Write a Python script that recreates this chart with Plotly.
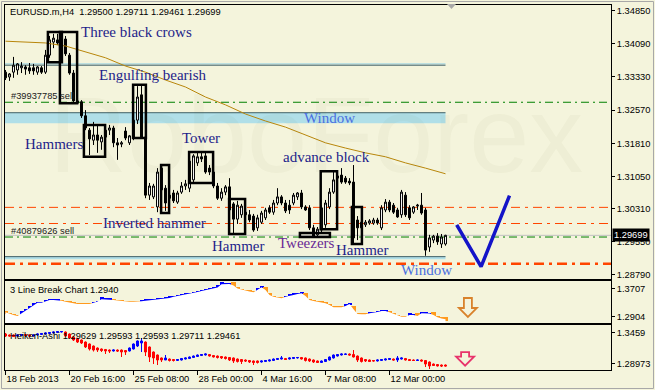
import plotly.graph_objects as go

# ---------------- data ----------------
bar_index = list(range(111))
open_ = [1.3344,1.3333,1.3344,1.3349,1.3354,1.3356,1.3354,1.3354,1.3344,1.3354,
         1.3344,1.3383,1.3413,1.3418,1.3409,1.3420,1.3383,1.3342,1.3278,1.3276,
         1.3244,1.3211,1.3188,1.3200,1.3184,1.3195,1.3211,1.3216,1.3182,1.3179,
         1.3209,1.3182,1.3193,1.3234,1.3292,1.3195,1.3062,1.3058,1.3035,1.3074,
         1.3078,1.3062,1.3067,1.3046,1.3069,1.3083,1.3078,1.3097,1.3136,1.3150,
         1.3152,1.3124,1.3115,1.3083,1.3055,1.3069,1.3081,1.3042,1.3007,1.3017,
         1.3023,1.3017,1.3014,1.2987,1.3000,1.3010,1.3033,1.3023,1.3044,1.3058,
         1.3044,1.3039,1.3044,1.3058,1.3067,1.3035,1.3033,1.2987,1.2971,1.2982,
         1.2994,1.3035,1.3069,1.3101,1.3108,1.3101,1.3094,1.3092,1.3005,1.2987,
         1.2994,1.2998,1.2998,1.3005,1.2987,1.3028,1.3046,1.3039,1.3028,1.3017,
         1.3062,1.3033,1.3023,1.3037,1.3039,1.3028,1.2943,1.2959,1.2968,1.2950,
         1.29500]
high_ = [1.3349,1.3342,1.3379,1.3365,1.3367,1.3360,1.3365,1.3363,1.3358,1.3358,
         1.3395,1.3427,1.3432,1.3432,1.3427,1.3427,1.3388,1.3349,1.3280,1.3280,
         1.3257,1.3216,1.3230,1.3223,1.3200,1.3216,1.3223,1.3221,1.3193,1.3186,
         1.3218,1.3200,1.3239,1.3312,1.3315,1.3198,1.3090,1.3088,1.3124,1.3131,
         1.3085,1.3069,1.3074,1.3072,1.3092,1.3097,1.3147,1.3156,1.3161,1.3159,
         1.3159,1.3131,1.3120,1.3090,1.3078,1.3085,1.3101,1.3046,1.3049,1.3042,
         1.3028,1.3028,1.3019,1.3017,1.3026,1.3033,1.3039,1.3051,1.3078,1.3062,
         1.3051,1.3051,1.3067,1.3069,1.3074,1.3039,1.3039,1.2994,1.2989,1.3039,
         1.3051,1.3078,1.3115,1.3113,1.3124,1.3106,1.3101,1.3131,1.3014,1.3005,
         1.3005,1.3007,1.3010,1.3010,1.3039,1.3053,1.3051,1.3044,1.3033,1.3074,
         1.3069,1.3039,1.3037,1.3042,1.3067,1.3033,1.2971,1.2971,1.2975,1.2973,
         1.29711]
low_ = [1.3326,1.3324,1.3331,1.3338,1.3342,1.3338,1.3340,1.3338,1.3338,1.3340,
        1.3340,1.3377,1.3399,1.3406,1.3402,1.3381,1.3338,1.3273,1.3271,1.3239,
        1.3211,1.3154,1.3177,1.3159,1.3166,1.3188,1.3200,1.3172,1.3143,1.3172,
        1.3188,1.3177,1.3188,1.3225,1.3191,1.3055,1.3051,1.3053,1.3023,1.3023,
        1.3026,1.3051,1.3044,1.3042,1.3065,1.3074,1.3069,1.3090,1.3129,1.3138,
        1.3111,1.3108,1.3078,1.3051,1.3049,1.3062,1.3021,1.2971,1.2996,1.3010,
        1.3010,1.3000,1.2978,1.2980,1.2996,1.3005,1.3019,1.3017,1.3039,1.3039,
        1.3021,1.3019,1.3039,1.3051,1.3030,1.3026,1.2982,1.2964,1.2966,1.2975,
        1.2987,1.3030,1.3065,1.3092,1.3088,1.3088,1.3085,1.2952,1.2959,1.2982,
        1.2989,1.2994,1.2994,1.2994,1.2982,1.3023,1.3023,1.3019,1.3010,1.3010,
        1.3012,1.3005,1.3019,1.3028,1.3017,1.2923,1.2932,1.2952,1.2948,1.2941,
        1.29461]
close_ = [1.3331,1.3340,1.3360,1.3363,1.3358,1.3351,1.3347,1.3347,1.3356,1.3344,
          1.3383,1.3418,1.3422,1.3411,1.3420,1.3386,1.3342,1.3278,1.3273,1.3244,
          1.3216,1.3191,1.3200,1.3188,1.3195,1.3211,1.3216,1.3182,1.3177,1.3182,
          1.3193,1.3198,1.3234,1.3287,1.3195,1.3062,1.3083,1.3083,1.3115,1.3124,
          1.3044,1.3055,1.3049,1.3067,1.3083,1.3088,1.3140,1.3152,1.3150,1.3145,
          1.3115,1.3115,1.3083,1.3055,1.3069,1.3081,1.3028,1.3007,1.3039,1.3037,
          1.3017,1.3005,1.2982,1.3010,1.3021,1.3028,1.3023,1.3044,1.3058,1.3044,
          1.3026,1.3028,1.3062,1.3067,1.3035,1.3028,1.2987,1.2968,1.2984,1.3033,
          1.3044,1.3069,1.3097,1.3106,1.3092,1.3092,1.3090,1.2964,1.2987,1.3000,
          1.3000,1.3003,1.3005,1.2998,1.3033,1.3046,1.3028,1.3023,1.3012,1.3069,
          1.3017,1.3010,1.3035,1.3039,1.3021,1.2936,1.2964,1.2968,1.2955,1.2966,
          1.29699]

ma_index = [0,10,15,20,25,30,35,40,45,50,55,60,65,70,75,80,85,90,95,100,105,110]
ma_value = [1.3415,1.3411,1.3404,1.3390,1.3377,1.3358,1.3344,1.3326,1.3310,1.3287,
            1.3269,1.3248,1.3232,1.3218,1.3200,1.3182,1.3170,1.3159,1.3150,1.3136,
            1.3124,1.3111]

# 3 Line Break: value, direction (1 up / -1 down), kind (0 line, 1 brick, 2 reversal brick)
lb_value = [1.3029,1.2981,1.2952,1.2924,1.3000,1.3065,1.3150,1.3235,1.3300,1.3300,
            1.3328,1.3376,1.3376,1.3376,1.3357,1.3328,1.3306,1.3283,1.3263,1.3263,
            1.3263,1.3263,1.3300,1.3334,1.3396,1.3396,1.3396,1.3376,1.3362,1.3348,
            1.3328,1.3328,1.3328,1.3328,1.3340,1.3357,1.3368,1.3376,1.3396,1.3413,
            1.3424,1.3433,1.3470,1.3489,1.3509,1.3526,1.3560,1.3583,1.3603,1.3631,
            1.3659,1.3687,1.3707,1.3730,1.3820,1.3829,1.3829,1.3786,1.3702,1.3673,
            1.3639,1.3617,1.3594,1.3659,1.3735,1.3659,1.3518,1.3470,1.3447,1.3424,
            1.3470,1.3504,1.3518,1.3546,1.3566,1.3489,1.3376,1.3348,1.3328,1.3306,
            1.3283,1.3235,1.3170,1.3170,1.3170,1.3207,1.3263,1.3114,1.2981,1.2972,
            1.2972,1.3000,1.3009,1.3037,1.3065,1.3065,1.3029,1.2981,1.2933,1.2904,
            1.2904,1.2952,1.2952,1.2924,1.3000,1.3000,1.2995,1.2952,1.2887,1.2854,
            1.2831]
lb_dir = [-1,-1,-1,-1,1,1,1,1,1,1, 1,1,1,1,-1,-1,-1,-1,-1,-1,
          -1,-1,1,1,1,1,1,-1,-1,-1, -1,-1,-1,-1,1,1,1,1,1,1,
          1,1,1,1,1,1,1,1,1,1, 1,1,1,1,1,1,1,-1,-1,-1,
          -1,-1,-1,1,1,-1,-1,-1,-1,-1, 1,1,1,1,1,-1,-1,-1,-1,-1,
          -1,-1,-1,-1,-1,1,1,-1,-1,-1, -1,1,1,1,1,1,-1,-1,-1,-1,
          -1,1,1,-1,1,1,1,-1,-1,-1, -1]
lb_kind = [0,0,0,0,1,1,1,1,0,0, 1,0,0,0,0,0,0,0,0,0,
           0,0,0,0,1,0,0,0,0,0, 0,0,0,0,0,1,0,0,0,0,
           0,1,0,0,0,1,0,0,0,0, 0,0,0,1,1,0,0,2,0,0,
           0,0,0,1,0,2,1,0,0,0, 0,0,1,0,0,2,0,0,0,0,
           0,0,0,0,0,1,0,2,0,0, 0,0,0,0,0,0,0,0,0,0,
           0,1,0,2,0,0,0,2,0,0, 1]

ha_open = [1.3435,1.3417,1.3417,1.3398,1.3408,1.3426,1.3417,1.3398,1.3417,1.3426,
           1.3435,1.3444,1.3454,1.3463,1.3472,1.3472,1.3435,1.3380,1.3353,1.3325,
           1.3288,1.3252,1.3215,1.3178,1.3160,1.3151,1.3141,1.3123,1.3141,1.3141,
           1.3132,1.3123,1.3160,1.3215,1.3270,1.3288,1.3197,1.3105,1.3050,1.2995,
           1.2958,1.2976,1.2967,1.2949,1.2958,1.2976,1.2985,1.3004,1.3022,1.3040,
           1.3050,1.3059,1.3040,1.3031,1.3022,1.3013,1.3004,1.2995,1.2976,1.2967,
           1.2958,1.2949,1.2940,1.2940,1.2921,1.2930,1.2940,1.2949,1.2967,1.2976,
           1.2985,1.2976,1.2985,1.2995,1.3004,1.2995,1.2976,1.2958,1.2940,1.2912,
           1.2930,1.2958,1.2995,1.3031,1.3050,1.3059,1.3068,1.3059,1.3031,1.2995,
           1.2967,1.2958,1.2949,1.2940,1.2949,1.2958,1.2967,1.2976,1.2958,1.2976,
           1.2985,1.2967,1.2958,1.2949,1.2958,1.2949,1.2921,1.2884,1.2875,1.2866,
           1.2866]
ha_close = [1.3398,1.3398,1.3389,1.3417,1.3426,1.3408,1.3398,1.3417,1.3435,1.3444,
            1.3454,1.3463,1.3472,1.3481,1.3481,1.3398,1.3362,1.3325,1.3288,1.3270,
            1.3197,1.3160,1.3141,1.3141,1.3132,1.3123,1.3123,1.3141,1.3123,1.3105,
            1.3105,1.3178,1.3252,1.3307,1.3307,1.3105,1.3013,1.2995,1.2958,1.2958,
            1.2995,1.2949,1.2949,1.2967,1.2985,1.2995,1.3013,1.3031,1.3050,1.3059,
            1.3068,1.3031,1.3013,1.3004,1.2995,1.2985,1.2958,1.2940,1.2930,1.2930,
            1.2940,1.2921,1.2912,1.2912,1.2940,1.2949,1.2958,1.2976,1.2985,1.2995,
            1.2967,1.2995,1.3004,1.3004,1.2976,1.2949,1.2940,1.2921,1.2912,1.2940,
            1.2967,1.3013,1.3050,1.3059,1.3068,1.3068,1.3050,1.3013,1.2958,1.2930,
            1.2940,1.2930,1.2940,1.2958,1.2967,1.2976,1.2985,1.2958,1.2995,1.2995,
            1.2958,1.2949,1.2949,1.2958,1.2940,1.2884,1.2848,1.2857,1.2848,1.2848,
            1.2848]
ha_high = [1.3454,1.3426,1.3426,1.3426,1.3435,1.3435,1.3426,1.3426,1.3444,1.3454,
           1.3463,1.3472,1.3481,1.3490,1.3490,1.3481,1.3444,1.3389,1.3362,1.3334,
           1.3298,1.3261,1.3224,1.3188,1.3169,1.3160,1.3151,1.3151,1.3151,1.3151,
           1.3141,1.3188,1.3261,1.3316,1.3362,1.3298,1.3206,1.3114,1.3059,1.3004,
           1.3050,1.2985,1.2976,1.2976,1.2995,1.3004,1.3022,1.3040,1.3059,1.3068,
           1.3077,1.3068,1.3050,1.3040,1.3031,1.3022,1.3013,1.3004,1.2985,1.2976,
           1.2967,1.2958,1.2949,1.2949,1.2949,1.2958,1.2967,1.2985,1.2995,1.3031,
           1.2995,1.3004,1.3013,1.3013,1.3013,1.3004,1.2985,1.2967,1.2949,1.2949,
           1.2976,1.3022,1.3059,1.3068,1.3077,1.3077,1.3077,1.3141,1.3040,1.3004,
           1.2976,1.2967,1.2958,1.2967,1.2976,1.2985,1.2995,1.2985,1.3031,1.3004,
           1.2995,1.2976,1.2967,1.2967,1.2967,1.2958,1.2930,1.2893,1.2884,1.2875,
           1.2875]
ha_low = [1.3380,1.3389,1.3380,1.3389,1.3398,1.3398,1.3389,1.3389,1.3408,1.3417,
          1.3426,1.3435,1.3444,1.3454,1.3463,1.3389,1.3353,1.3307,1.3270,1.3252,
          1.3178,1.3132,1.3114,1.3105,1.3105,1.3068,1.3086,1.3114,1.3105,1.3013,
          1.3050,1.3114,1.3151,1.3197,1.3105,1.3031,1.2921,1.2884,1.2866,1.2921,
          1.2967,1.2930,1.2930,1.2940,1.2949,1.2967,1.2976,1.2995,1.3013,1.3031,
          1.3040,1.3022,1.3004,1.2985,1.2976,1.2967,1.2940,1.2903,1.2912,1.2884,
          1.2921,1.2903,1.2866,1.2893,1.2912,1.2921,1.2930,1.2940,1.2958,1.2967,
          1.2958,1.2967,1.2976,1.2985,1.2967,1.2930,1.2921,1.2903,1.2903,1.2903,
          1.2921,1.2949,1.2985,1.3022,1.3040,1.3050,1.3040,1.3004,1.2921,1.2912,
          1.2921,1.2921,1.2930,1.2930,1.2940,1.2949,1.2958,1.2949,1.2921,1.2967,
          1.2949,1.2940,1.2940,1.2940,1.2930,1.2829,1.2793,1.2848,1.2839,1.2829,
          1.2839]

main_ticks = [1.34850, 1.34090, 1.33330, 1.32570, 1.31810, 1.31050, 1.30310, 1.29550, 1.28790]
main_ticktext = ["1.34850", "1.34090", "1.33330", "1.32570", "1.31810", "1.31050", "1.30310", "1.29550", "1.28790"]
lb_ticks = [1.3707, 1.2904]
lb_ticktext = ["1.3707", "1.2904"]
ha_ticks = [1.3459, 1.28973]
ha_ticktext = ["1.3459", "1.28973"]
date_idx = [0, 16, 32, 48, 64, 80, 96]
date_text = ["18 Feb 2013", "20 Feb 16:00", "25 Feb 08:00", "28 Feb 00:00", "4 Mar 16:00", "7 Mar 08:00", "12 Mar 00:00"]

last_price = 1.29699
sell_orders = [("#39937785 sell", 1.3275), ("#40879626 sell", 1.2966)]
red_levels = [1.3034, 1.2997]
target_level = 1.2905
slate_level = 1.3360
window_zones = [(110, 1.3227, 1.3251), (110, 1.2915, 1.2921)]

pattern_boxes = [(10.6, 14.1, 1.3367, 1.3436), (13.6, 17.9, 1.3273, 1.3436),
                 (31.9, 35.1, 1.3193, 1.3315), (19.6, 24.9, 1.3150, 1.3223),
                 (38.9, 40.9, 1.3021, 1.3131), (45.9, 51.9, 1.3090, 1.3161),
                 (55.9, 59.9, 1.2973, 1.3053), (73.6, 81.1, 1.2966, 1.2975),
                 (78.8, 82.9, 1.2984, 1.3117), (86.6, 89.1, 1.2950, 1.3035)]
pattern_labels = [("Three black crows", 18.6, 1.3436, "n"), ("Engulfing bearish", 23.1, 1.3338, "n"),
                  ("Window", 74.4, 1.3239, "w"), ("Hammers", 4.6, 1.3179, "n"),
                  ("Tower", 43.9, 1.3193, "n"), ("advance block", 69.0, 1.3150, "n"),
                  ("Inverted hammer", 24.1, 1.2998, "n"), ("Hammer", 51.4, 1.2945, "n"),
                  ("Tweezers", 67.9, 1.2952, "p"), ("Hammer", 82.4, 1.2936, "n"),
                  ("Window", 98.6, 1.2890, "w")]
forecast_index = [112.8, 118.9, 126.0]
forecast_price = [1.2994, 1.2898, 1.3061]

# ---------------- layout geometry ----------------
W, H = 655, 390
ML, MR, MT, MB = 5, 44, 5, 20
PW, PH = W - ML - MR, H - MT - MB
def px(x):
    return (x - ML) / PW
def py(y):
    return (H - MB - y) / PH

x_range = [-0.125, 151.375]
main_range = [1.28709, 1.34980]
lb_range = [1.27180, 1.39135]
ha_range = [1.27744, 1.36004]
dom_main = [py(278.5), 1.0]
dom_lb = [py(323.3), py(281)]
dom_ha = [0.0, py(325)]

BG = "#F4F4DC"
SANS = "Liberation Sans"
SERIF = "Liberation Serif"
TXT = 9.3
colors = {"n": "#1E1E8A", "w": "#4A6FE0", "p": "#6A2A95"}

fig = go.Figure()

# 3LB white area + segments
fig.add_trace(go.Scatter(x=bar_index, y=lb_value, mode="lines", line=dict(width=0),
                         fill="tozeroy", fillcolor="white", xaxis="x2", yaxis="y2", hoverinfo="skip"))
lb_ppx = (lb_range[1] - lb_range[0]) / ((dom_lb[1] - dom_lb[0]) * PH)
kind_h = {0: 2, 1: 4, 2: 7}
kind_w = {0: 1.0, 1: 1.0, 2: 1.2}
heights = [kind_h[k] * lb_ppx for k in lb_kind]
bases = [v - h / 2 for v, h in zip(lb_value, heights)]
fig.add_trace(go.Bar(x=bar_index, y=heights, base=bases, width=[kind_w[k] for k in lb_kind],
                     marker=dict(color=["#0000FF" if d > 0 else "#FF9A1E" for d in lb_dir], line=dict(width=0)),
                     xaxis="x2", yaxis="y2", hoverinfo="skip"))

# Heiken-Ashi
fig.add_trace(go.Candlestick(x=bar_index, open=ha_open, high=ha_high, low=ha_low, close=ha_close,
                             increasing=dict(line=dict(color="#0000FF", width=1), fillcolor="#0000FF"),
                             decreasing=dict(line=dict(color="#FF0000", width=1), fillcolor="#FF0000"),
                             whiskerwidth=0, xaxis="x3", yaxis="y3", hoverinfo="skip"))

# main candles
fig.add_trace(go.Candlestick(x=bar_index, open=open_, high=high_, low=low_, close=close_,
                             increasing=dict(line=dict(color="black", width=1), fillcolor="white"),
                             decreasing=dict(line=dict(color="black", width=1), fillcolor="black"),
                             whiskerwidth=0, xaxis="x", yaxis="y", hoverinfo="skip"))
fig.add_trace(go.Scatter(x=ma_index, y=ma_value, mode="lines", line=dict(color="#B8860B", width=1),
                         xaxis="x", yaxis="y", hoverinfo="skip"))
fig.add_trace(go.Scatter(x=forecast_index, y=forecast_price, mode="lines",
                         line=dict(color="#1414C8", width=3.5), xaxis="x", yaxis="y", hoverinfo="skip"))

shapes = []
for end, lo, hi in window_zones:
    shapes.append(dict(type="rect", xref="x", yref="y", x0=x_range[0], x1=end, y0=lo, y1=hi,
                       fillcolor="#B0DFE8", line=dict(width=0), layer="below"))
    shapes.append(dict(type="line", xref="x", yref="y", x0=x_range[0], x1=end, y0=hi, y1=hi,
                       line=dict(color="#3F5F66", width=1), layer="below"))
shapes.append(dict(type="line", xref="x", yref="y", x0=x_range[0], x1=110, y0=slate_level + 0.0003,
                   y1=slate_level + 0.0003, line=dict(color="#9BD3E3", width=1), layer="below"))
shapes.append(dict(type="line", xref="x", yref="y", x0=x_range[0], x1=110, y0=slate_level, y1=slate_level,
                   line=dict(color="#3F5F66", width=1), layer="below"))
shapes.append(dict(type="line", xref="x domain", yref="y", x0=0, x1=1, y0=last_price, y1=last_price,
                   line=dict(color="#C0C0C0", width=1), layer="below"))
for _, lvl in sell_orders:
    shapes.append(dict(type="line", xref="x domain", yref="y", x0=0, x1=1, y0=lvl, y1=lvl,
                       line=dict(color="#008000", width=1, dash="8px,4px,2px,4px"), layer="below"))
for lvl in red_levels:
    shapes.append(dict(type="line", xref="x domain", yref="y", x0=0, x1=1, y0=lvl, y1=lvl,
                       line=dict(color="#FF4500", width=1, dash="9px,5px,3px,5px"), layer="below"))
shapes.append(dict(type="line", xref="x domain", yref="y", x0=0, x1=1, y0=target_level, y1=target_level,
                   line=dict(color="#FF4500", width=2.5, dash="10px,5px,3px,5px"), layer="below"))
for x0, x1, lo, hi in pattern_boxes:
    shapes.append(dict(type="rect", xref="x", yref="y", x0=x0, x1=x1, y0=lo, y1=hi,
                       line=dict(color="black", width=2.5), fillcolor="rgba(0,0,0,0)"))

def arrow_path(xc, top, neck, bottom, hs, hh):
    return (f"M {xc-hs},{top} L {xc+hs},{top} L {xc+hs},{neck} L {xc+hh},{neck} "
            f"L {xc},{bottom} L {xc-hh},{neck} L {xc-hs},{neck} Z")
shapes.append(dict(type="path", xref="x2", yref="y2", path=arrow_path(115.6, 1.3433, 1.3150, 1.2896, 1.0, 2.25),
                   line=dict(color="#D9822B", width=1.8), fillcolor="rgba(0,0,0,0)"))
shapes.append(dict(type="path", xref="x3", yref="y3", path=arrow_path(114.9, 1.3102, 1.3019, 1.2853, 1.0, 2.25),
                   line=dict(color="#E8336B", width=1.8), fillcolor="rgba(0,0,0,0)"))
# chart shift marker and window frame
shapes.append(dict(type="path", xref="paper", yref="paper",
                   path=f"M {px(447)},{py(4)} L {px(456)},{py(4)} L {px(451.5)},{py(9)} Z",
                   fillcolor="#A8A8A8", line=dict(width=0)))
shapes.append(dict(type="rect", xref="paper", yref="paper", x0=px(1.5), x1=px(653.5), y0=py(388.5), y1=py(1.5),
                   line=dict(color="#A8A8A8", width=1), fillcolor="rgba(0,0,0,0)", layer="below"))

ann = []
ann.append(dict(xref="paper", yref="paper", x=px(316), y=py(72), text="RoboForex", showarrow=False,
                font=dict(family=SANS, size=108, color="rgba(90,90,40,0.035)")))
ann.append(dict(xref="paper", yref="paper", x=px(9), y=py(12), xanchor="left", yanchor="middle",
                text="EURUSD.m,H4\u00a0\u00a01.29500 1.29711 1.29461 1.29699", showarrow=False,
                font=dict(family=SANS, size=TXT, color="black"), borderpad=0))
ann.append(dict(xref="paper", yref="paper", x=px(9), y=py(290), xanchor="left", yanchor="middle",
                text="3 Line Break Chart 1.2940", showarrow=False,
                font=dict(family=SANS, size=TXT, color="black"), borderpad=0))
ann.append(dict(xref="paper", yref="paper", x=px(9), y=py(335.5), xanchor="left", yanchor="middle",
                text="Heiken-Ashi 1.29629 1.29593 1.29593 1.29711 1.29461", showarrow=False,
                font=dict(family=SANS, size=TXT, color="black"), borderpad=0))
for txt, lvl in sell_orders:
    ann.append(dict(xref="x", yref="y", x=1.1, y=lvl, xanchor="left", yanchor="bottom", text=txt,
                    showarrow=False, font=dict(family=SANS, size=TXT, color="#202020"), borderpad=0))
for txt, xi, pr, c in pattern_labels:
    ann.append(dict(xref="x", yref="y", x=xi, y=pr, xanchor="left", yanchor="middle", text=txt,
                    showarrow=False, font=dict(family=SERIF, size=15, color=colors[c]), borderpad=0))
ann.append(dict(xref="paper", yref="y", x=1, xshift=1, y=last_price, xanchor="left", yanchor="middle",
                text="1.29699", showarrow=False, bgcolor="black", borderpad=1,
                font=dict(family=SANS, size=TXT, color="white")))

axis_common = dict(showline=True, mirror=True, linecolor="black", linewidth=1, showgrid=False, zeroline=False)
fig.update_layout(
    width=W, height=H, autosize=False, margin=dict(l=ML, r=MR, t=MT, b=MB),
    paper_bgcolor=BG, plot_bgcolor=BG, showlegend=False, bargap=0,
    xaxis=dict(domain=[0, 1], range=x_range, anchor="y", showticklabels=False, ticks="",
               rangeslider=dict(visible=False), **axis_common),
    xaxis2=dict(domain=[0, 1], range=x_range, anchor="y2", matches="x", showticklabels=False, ticks="",
                **axis_common),
    xaxis3=dict(domain=[0, 1], range=x_range, anchor="y3", matches="x", tickmode="array",
                tickvals=date_idx, ticktext=date_text, ticks="outside", ticklen=4, tickcolor="black",
                ticklabelposition="outside right", tickfont=dict(family=SANS, size=TXT, color="black"),
                rangeslider=dict(visible=False), **axis_common),
    yaxis=dict(domain=dom_main, range=main_range, anchor="x", side="right", tickmode="array",
               tickvals=main_ticks, ticktext=main_ticktext, ticks="outside", ticklen=3, tickcolor="black",
               tickfont=dict(family=SANS, size=TXT, color="black"), **axis_common),
    yaxis2=dict(domain=dom_lb, range=lb_range, anchor="x2", side="right", tickmode="array",
                tickvals=lb_ticks, ticktext=lb_ticktext, ticks="outside", ticklen=3, tickcolor="black",
                tickfont=dict(family=SANS, size=TXT, color="black"), **axis_common),
    yaxis3=dict(domain=dom_ha, range=ha_range, anchor="x3", side="right", tickmode="array",
                tickvals=ha_ticks, ticktext=ha_ticktext, ticks="outside", ticklen=3, tickcolor="black",
                tickfont=dict(family=SANS, size=TXT, color="black"), **axis_common),
    shapes=shapes, annotations=ann,
)
fig.write_html("out.html", config={"displayModeBar": False},
               post_script="document.body.style.margin='0';document.body.style.overflow='hidden';")
